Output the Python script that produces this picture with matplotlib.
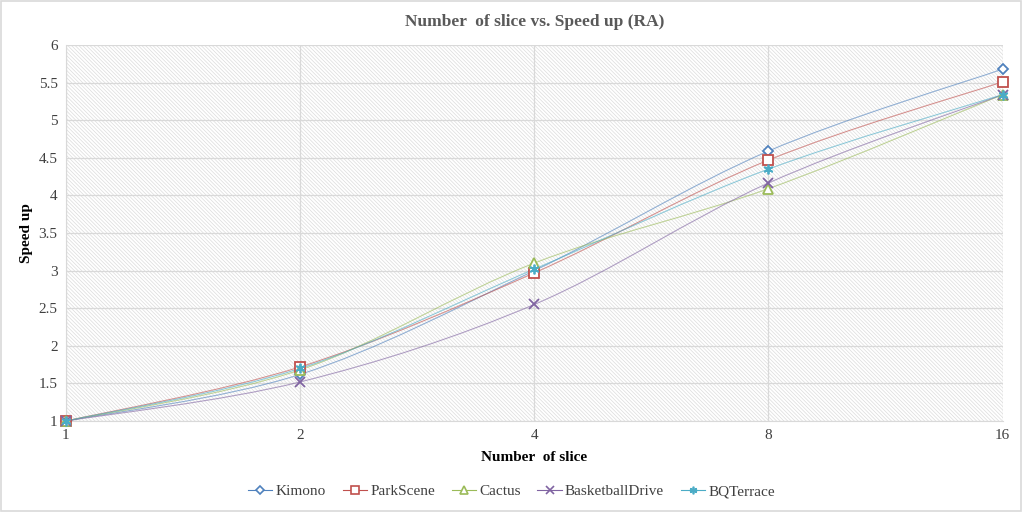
import matplotlib.pyplot as plt
from matplotlib.path import Path
from matplotlib.patches import PathPatch, Rectangle
import numpy as np

plt.rcParams['font.family'] = ['Liberation Serif', 'DejaVu Serif']
plt.rcParams['hatch.color'] = '#dcdcdc'
plt.rcParams['hatch.linewidth'] = 0.5

# data
slices = ['1', '2', '4', '8', '16']
kimono = [1.0, 1.62, 3.00, 4.59, 5.68]
parkscene = [1.0, 1.72, 2.97, 4.47, 5.51]
cactus = [1.0, 1.68, 3.10, 4.09, 5.34]
basketball = [1.0, 1.52, 2.55, 4.165, 5.34]
bqterrace = [1.0, 1.70, 3.02, 4.35, 5.34]

series = [
    ('Kimono', kimono, '#4F81BD', 'D'),
    ('ParkScene', parkscene, '#C0504D', 's'),
    ('Cactus', cactus, '#9BBB59', '^'),
    ('BasketballDrive', basketball, '#8064A2', 'x'),
    ('BQTerrace', bqterrace, '#4BACC6', (6, 2, 0)),
]


def smooth_path(xs, ys, t=1/6):
    # catmull-rom style bezier through the points (like excel smooth line)
    pts = np.column_stack([xs, ys])
    verts = [pts[0]]
    codes = [Path.MOVETO]
    n = len(pts)
    for i in range(n - 1):
        p0 = pts[max(i - 1, 0)]
        p1 = pts[i]
        p2 = pts[i + 1]
        p3 = pts[min(i + 2, n - 1)]
        c1 = p1 + (p2 - p0) * t
        c2 = p2 - (p3 - p1) * t
        verts += [c1, c2, p2]
        codes += [Path.CURVE4] * 3
    return Path(verts, codes)


fig = plt.figure(figsize=(10.23, 5.12), dpi=100)
fig.patches.append(Rectangle((0.001, 0.002), 0.997, 0.996, transform=fig.transFigure,
                             fill=False, edgecolor='#d9d9d9', linewidth=1.2))
ax = fig.add_axes([0.0645, 0.1777, 0.9155, 0.7343])
ax.patch.set_facecolor('white')
ax.patch.set_hatch('\\\\\\\\\\\\\\\\\\')
ax.patch.set_edgecolor('#dcdcdc')

x = np.arange(len(slices))
for name, vals, col, mk in series:
    pp = PathPatch(smooth_path(x, vals), fill=False, edgecolor=col, linewidth=0.8,
                   alpha=0.6, zorder=3, clip_on=False)
    ax.add_patch(pp)
    face = 'white' if mk in ('D', 's', '^') else col
    ax.plot(x, vals, linestyle='none', marker=mk, markersize=5 if mk == 'D' else 7,
            markerfacecolor=face, markeredgecolor=col, markeredgewidth=1.3,
            zorder=4, clip_on=False)
    ax.plot([], [], color=col, linewidth=0.8, marker=mk, markersize=4.5 if mk == 'D' else 5.5,
            markerfacecolor=face, markeredgecolor=col, markeredgewidth=1.2, label=name)

ax.set_xlim(0, 4)
ax.set_ylim(1, 6)
ax.set_xticks(x)
ax.set_xticklabels(slices)
ax.set_yticks(np.arange(1, 6.01, 0.5))
ax.set_yticklabels(['%g' % v for v in np.arange(1, 6.01, 0.5)])
ax.tick_params(length=0, labelsize=11, labelcolor='#404040', pad=6)
ax.grid(True, color='#d9d9d9', linewidth=0.9, zorder=1)
ax.set_axisbelow(True)
for s in ax.spines.values():
    s.set_visible(False)
ax.spines['left'].set_visible(True)
ax.spines['left'].set_color('#d9d9d9')
ax.spines['bottom'].set_visible(True)
ax.spines['bottom'].set_color('#d9d9d9')

ax.set_title('Number  of slice vs. Speed up (RA)', fontsize=12.5, fontweight='bold',
             color='#595959', pad=14)
ax.set_xlabel('Number  of slice', fontsize=11, fontweight='bold', labelpad=6)
ax.set_ylabel('Speed up', fontsize=11, fontweight='bold', labelpad=4)

fig.legend(loc='center', bbox_to_anchor=(0.5, 0.04), ncol=5, frameon=False,
           fontsize=11, handlelength=1.6, handletextpad=0.2, columnspacing=1.1,
           labelcolor='#404040')

fig.savefig('out.png', dpi=100)
